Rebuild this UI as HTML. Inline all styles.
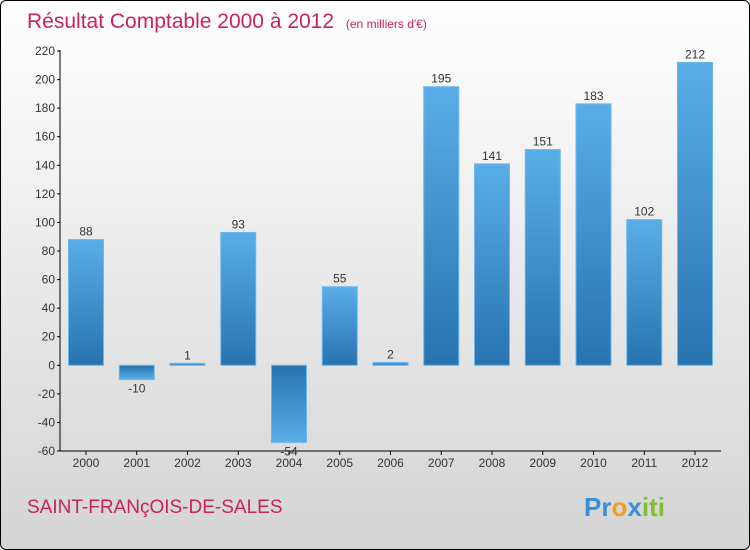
<!DOCTYPE html>
<html><head><meta charset="utf-8"><style>
body{margin:0;background:#fff}
#c{position:relative;width:748px;height:548px;border:1px solid #000;border-radius:6px;overflow:hidden;background:linear-gradient(#ffffff,#d4d4d4);font-family:"Liberation Sans",sans-serif}
</style></head><body>
<div id="c">
<svg id="s" width="748" height="548">
<defs>
<linearGradient id="gp" x1="0" y1="1" x2="0" y2="0"><stop offset="0" stop-color="#2673b0"/><stop offset="1" stop-color="#5aaee8"/></linearGradient>
<linearGradient id="gn" x1="0" y1="0" x2="0" y2="1"><stop offset="0" stop-color="#2673b0"/><stop offset="1" stop-color="#5aaee8"/></linearGradient>
</defs>
<text x="26" y="27" font-size="21" fill="#c8245a">Résultat Comptable 2000 à 2012 <tspan font-size="12" dx="6">(en milliers d'€)</tspan></text>
<text x="26" y="512" font-size="19" fill="#c8245a">SAINT-FRANçOIS-DE-SALES</text>
<text x="583" y="515" font-size="26" font-weight="bold"><tspan fill="#3a8fd8">Pr</tspan><tspan fill="#f0a020">o</tspan><tspan fill="#3a8fd8">x</tspan><tspan fill="#80c030">iti</tspan></text>
<g id="g"></g>
</svg>
</div>
<script>
const categories=["2000","2001","2002","2003","2004","2005","2006","2007","2008","2009","2010","2011","2012"];
const values=[88,-10,1,93,-54,55,2,195,141,151,183,102,212];
const yTicks=[-60,-40,-20,0,20,40,60,80,100,120,140,160,180,200,220];
const ns="http://www.w3.org/2000/svg",g=document.getElementById('g');
const y=v=>364.3-v*(400/280);
const x=i=>85+i*50.75;
function mk(t,a,txt){const e=document.createElementNS(ns,t);for(const k in a)e.setAttribute(k,a[k]);if(txt!=null)e.textContent=txt;g.appendChild(e);return e;}
let e=mk('line',{x1:59,y1:49,x2:59,y2:450,stroke:'#000'});

e=mk('line',{x1:59,y1:450,x2:720,y2:450,stroke:'#000'});

yTicks.forEach(t=>{const yy=y(t);
 let l=mk('line',{x1:56,y1:yy,x2:59,y2:yy,stroke:'#000'});
 
 let tx=mk('text',{x:54,y:yy+4,'font-size':12,fill:'#333','text-anchor':'end'},t);
 });
categories.forEach((c,i)=>{const v=values[i],cx=x(i);
 let l=mk('line',{x1:cx,y1:450,x2:cx,y2:454,stroke:'#000'});
 
 let tx=mk('text',{x:cx,y:466,'font-size':12,fill:'#333','text-anchor':'middle'},c);
 
 const y0=y(0),y1=y(v),top=Math.min(y0,y1),h=Math.max(Math.abs(y1-y0),2);
 let r=mk('rect',{x:cx-17.5,y:v>=0?y0-h:y0,width:35,height:h,fill:v>=0?'url(#gp)':'url(#gn)',stroke:'#6ab8ee','stroke-width':1});
 
 let lb=mk('text',{x:cx,y:v>=0?y0-h-4:y0+h+13,'font-size':12,fill:'#333','text-anchor':'middle'},v);
 
});
</script>
</body></html>
